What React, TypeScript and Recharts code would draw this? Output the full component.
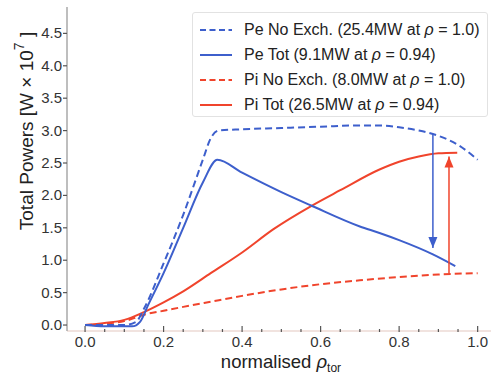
import React from "react";
import {
  ComposedChart,
  Line,
  XAxis,
  YAxis,
  Legend,
} from "recharts";

const BLUE = "#3d5fcc";
const RED = "#f0442c";

const peNoExchRho = [0, 0.05, 0.1, 0.13, 0.15, 0.2, 0.25, 0.3, 0.32, 0.34, 0.4, 0.5, 0.6, 0.7, 0.75, 0.8, 0.85, 0.9, 0.95, 1.0];
const peNoExchVal = [0, 0, 0.0, 0.05, 0.25, 0.95, 1.7, 2.55, 2.88, 3.0, 3.02, 3.04, 3.06, 3.08, 3.08, 3.05, 3.0, 2.92, 2.78, 2.55];

const peTotRho = [0, 0.05, 0.1, 0.12, 0.14, 0.16, 0.2, 0.25, 0.3, 0.337, 0.4, 0.5, 0.577, 0.7, 0.75, 0.8, 0.886, 0.943];
const peTotVal = [0, -0.02, -0.02, -0.02, 0.05, 0.3, 0.8, 1.5, 2.2, 2.55, 2.35, 2.05, 1.84, 1.52, 1.42, 1.31, 1.09, 0.91];

const piNoExchRho = [0, 0.05, 0.1, 0.15, 0.2, 0.25, 0.32, 0.4, 0.5, 0.6, 0.7, 0.8, 0.9, 1.0];
const piNoExchVal = [0, 0.02, 0.06, 0.16, 0.22, 0.28, 0.36, 0.45, 0.55, 0.63, 0.69, 0.74, 0.78, 0.8];

const piTotRho = [0, 0.05, 0.1, 0.15, 0.2, 0.25, 0.32, 0.4, 0.48, 0.577, 0.65, 0.75, 0.8, 0.85, 0.9, 0.948];
const piTotVal = [0, 0.03, 0.08, 0.2, 0.35, 0.52, 0.8, 1.12, 1.48, 1.84, 2.08, 2.4, 2.52, 2.6, 2.65, 2.66];

const blueArrowRho = [0.886, 0.886];
const blueArrowVal = [2.95, 1.19];
const redArrowRho = [0.927, 0.927];
const redArrowVal = [0.8, 2.6];

const xTicks = [0, 0.05, 0.1, 0.15, 0.2, 0.25, 0.3, 0.35, 0.4, 0.45, 0.5, 0.55, 0.6, 0.65, 0.7, 0.75, 0.8, 0.85, 0.9, 0.95, 1.0];
const yTicks = [0, 0.5, 1.0, 1.5, 2.0, 2.5, 3.0, 3.5, 4.0, 4.5];

const legendNames = ["Pe No Exch.", "Pe Tot", "Pi No Exch.", "Pi Tot"];
const legendMW = ["25.4MW", "9.1MW", "8.0MW", "26.5MW"];
const legendRho = ["1.0", "0.94", "1.0", "0.94"];
const legendColors = [BLUE, BLUE, RED, RED];
const legendDashed = [true, false, true, false];

const zip = (xs: number[], ys: number[]) => xs.map((x, i) => ({ x, y: ys[i] }));

const FONT = "'Liberation Sans', Arial, Helvetica, sans-serif";

const XTick = (props: any) => {
  const { x, y, payload } = props;
  const v = payload.value as number;
  const major = Math.abs(Math.round(v * 5) - v * 5) < 1e-6;
  return (
    <g>
      {major ? (
        <line x1={x} x2={x} y1={y - 5} y2={y + 1} stroke="#555" strokeWidth={1.2} />
      ) : (
        <line x1={x} x2={x} y1={y - 2} y2={y + 1} stroke="#555" strokeWidth={1.2} />
      )}
      {major && (
        <text x={x} y={y + 16} textAnchor="middle" fontSize={15} fill="#333" fontFamily={FONT}>
          {v.toFixed(1)}
        </text>
      )}
    </g>
  );
};

const YTick = (props: any) => {
  const { x, y, payload } = props;
  const v = payload.value as number;
  return (
    <g>
      <line x1={x - 4} x2={x} y1={y} y2={y} stroke="#555" strokeWidth={1.2} />
      <text x={x - 5} y={y + 5} textAnchor="end" fontSize={15} fill="#333" fontFamily={FONT}>
        {v.toFixed(1)}
      </text>
    </g>
  );
};

const arrowDot = (color: string, dir: "up" | "down") => (props: any) => {
  const { cx, cy, index } = props;
  if (index !== 1 || cx == null || cy == null) return <g key={`d${index}`} />;
  const w = 4.5;
  const h = 11;
  const pts =
    dir === "down"
      ? `${cx - w},${cy - h} ${cx + w},${cy - h} ${cx},${cy}`
      : `${cx - w},${cy + h} ${cx + w},${cy + h} ${cx},${cy}`;
  return <polygon key={`d${index}`} points={pts} fill={color} stroke="none" />;
};

const LegendContent = () => (
  <div
    style={{
      width: 296,
      height: 105,
      border: "1px solid #e2e2e2",
      borderRadius: 3,
      background: "#fff",
      boxSizing: "border-box",
      fontFamily: FONT,
      fontSize: 16,
      color: "#222",
      paddingTop: 4,
    }}
  >
    {legendNames.map((n, i) => (
      <div key={n} style={{ height: 25, display: "flex", alignItems: "center" }}>
        <svg width={51} height={10} style={{ flex: "none" }}>
          <line
            x1={7}
            x2={39}
            y1={5}
            y2={5}
            stroke={legendColors[i]}
            strokeWidth={2}
            strokeDasharray={legendDashed[i] ? "6 3.5" : undefined}
          />
        </svg>
        <span style={{ whiteSpace: "nowrap" }}>
          {n} ({legendMW[i]} at <i>ρ</i> = {legendRho[i]})
        </span>
      </div>
    ))}
  </div>
);

const YLabel = () => (
  <text
    transform="translate(33,131) rotate(-90)"
    textAnchor="middle"
    fontSize={19}
    fill="#222"
    fontFamily={FONT}
  >
    Total Powers [W
    <tspan> × </tspan>
    10
    <tspan dy={-9} fontSize={14}>7</tspan>
    <tspan dy={9}> ]</tspan>
  </text>
);

const XLabel = () => (
  <text x={281} y={368} textAnchor="middle" fontSize={18.5} fill="#222" fontFamily={FONT}>
    normalised <tspan fontStyle="italic">ρ</tspan>
    <tspan fontSize={12} dy={4}>tor</tspan>
  </text>
);

export default function App() {
  return (
    <div style={{ position: "absolute", left: 0, top: 0, background: "#fff" }}>
      <ComposedChart width={491} height={379} margin={{ top: 7, right: 0, left: 0, bottom: 0 }}>
        <XAxis
          xAxisId="top"
          orientation="top"
          type="number"
          dataKey="x"
          domain={[-0.046, 1.034]}
          height={0}
          tick={false}
          tickLine={false}
          axisLine={{ stroke: "#c8c8c8", strokeWidth: 1.2 }}
        />
        <XAxis
          type="number"
          dataKey="x"
          domain={[-0.046, 1.034]}
          ticks={xTicks}
          interval={0}
          height={48}
          tickLine={false}
          tickSize={0}
          tickMargin={0}
          tick={<XTick />}
          axisLine={{ stroke: "#e3c7bf", strokeWidth: 1.2 }}
          allowDataOverflow
          label={<XLabel />}
        />
        <YAxis
          type="number"
          domain={[-0.092, 4.907]}
          ticks={yTicks}
          interval={0}
          width={67}
          tickLine={false}
          tickSize={0}
          tickMargin={0}
          tick={<YTick />}
          axisLine={{ stroke: "#a8a8a8", strokeWidth: 1.5 }}
          allowDataOverflow
          label={<YLabel />}
        />
        <Legend
          layout="horizontal"
          verticalAlign="middle"
          align="center"
          content={<LegendContent />}
          wrapperStyle={{ position: "absolute", left: 192, top: 12, width: 296, height: 105 }}
        />
        <Line
          data={zip(piNoExchRho, piNoExchVal)}
          dataKey="y"
          type="monotone"
          stroke={RED}
          strokeWidth={2}
          strokeDasharray="7 4"
          dot={false}
          isAnimationActive={false}
          name="Pi No Exch."
        />
        <Line
          data={zip(piTotRho, piTotVal)}
          dataKey="y"
          type="monotone"
          stroke={RED}
          strokeWidth={2}
          dot={false}
          isAnimationActive={false}
          name="Pi Tot"
        />
        <Line
          data={zip(peNoExchRho, peNoExchVal)}
          dataKey="y"
          type="monotone"
          stroke={BLUE}
          strokeWidth={2}
          strokeDasharray="7 4"
          dot={false}
          isAnimationActive={false}
          name="Pe No Exch."
        />
        <Line
          data={zip(peTotRho, peTotVal)}
          dataKey="y"
          type="monotone"
          stroke={BLUE}
          strokeWidth={2}
          dot={false}
          isAnimationActive={false}
          name="Pe Tot"
        />
        <Line
          data={zip(blueArrowRho, blueArrowVal)}
          dataKey="y"
          type="linear"
          stroke={BLUE}
          strokeWidth={1.5}
          dot={arrowDot(BLUE, "down")}
          activeDot={false}
          isAnimationActive={false}
          legendType="none"
        />
        <Line
          data={zip(redArrowRho, redArrowVal)}
          dataKey="y"
          type="linear"
          stroke={RED}
          strokeWidth={1.5}
          dot={arrowDot(RED, "up")}
          activeDot={false}
          isAnimationActive={false}
          legendType="none"
        />
      </ComposedChart>
    </div>
  );
}
